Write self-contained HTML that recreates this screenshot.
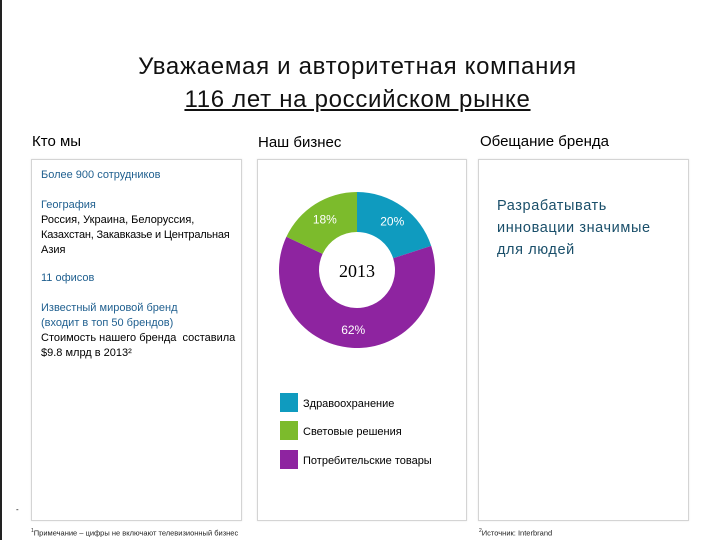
<!DOCTYPE html>
<html><head><meta charset="utf-8"><style>
body{margin:0;width:720px;height:540px;background:#fff;position:relative;overflow:hidden;font-family:"Liberation Sans","DejaVu Sans",sans-serif;}
.abs{position:absolute;white-space:nowrap;}
.box{position:absolute;border:1px solid #d4d4d4;box-shadow:0 0 2px #e8e8e8;}
.blue{color:#1f5f8f;}
.s{font-size:11px;line-height:15px;}
</style></head><body>
<div class="abs" style="left:0;top:0;width:2px;height:540px;background:#222;"></div>
<div class="abs" style="left:0;width:715px;top:53px;text-align:center;font-size:24px;letter-spacing:0.7px;color:#111;">Уважаемая и авторитетная компания</div>
<div class="abs" style="left:0;width:715px;top:86px;text-align:center;font-size:24px;letter-spacing:0.7px;color:#111;text-decoration:underline;">116 лет на российском рынке</div>

<div class="abs" style="left:32px;top:133px;font-size:15px;">Кто мы</div>
<div class="abs" style="left:258px;top:134px;font-size:15px;">Наш бизнес</div>
<div class="abs" style="left:480px;top:133px;font-size:15px;">Обещание бренда</div>

<div class="box" style="left:31px;top:159px;width:209px;height:360px;"></div>
<div class="box" style="left:257px;top:159px;width:208px;height:360px;"></div>
<div class="box" style="left:478px;top:159px;width:209px;height:360px;"></div>

<div class="abs s blue" style="left:41px;top:168px;">Более 900 сотрудников</div>
<div class="abs s" style="left:41px;top:198px;"><span class="blue">География</span><br>Россия, Украина, Белоруссия,<br><span style="letter-spacing:-0.2px">Казахстан, Закавказье и Центральная</span><br>Азия</div>
<div class="abs s blue" style="left:41px;top:271px;">11 офисов</div>
<div class="abs s" style="left:41px;top:301px;"><span class="blue">Известный мировой бренд<br>(входит в топ 50 брендов)</span><br>Стоимость нашего бренда&nbsp; составила<br>$9.8 млрд в 2013²</div>

<div class="abs blue" style="left:497px;top:195px;font-size:14.5px;line-height:22px;letter-spacing:0.6px;color:#1a4f6a;">Разрабатывать<br>инновации значимые<br>для людей</div>

<svg class="abs" style="left:0;top:0" width="720" height="540" id="chart"></svg>

<div class="abs" style="left:16px;top:505px;font-size:8px;">-</div>
<div class="abs" style="left:31px;top:528px;font-size:7.5px;color:#222;"><sup style="font-size:5px">1</sup>Примечание – цифры не включают телевизионный бизнес</div>
<div class="abs" style="left:479px;top:528px;font-size:7.5px;color:#222;"><sup style="font-size:5px">2</sup>Источник: Interbrand</div>

<script>
const categories=["Здравоохранение","Световые решения","Потребительские товары"];
const values=[20,18,62];
const labels=["20%","18%","62%"];
const colors=["#0f9bbf","#7cbb2c","#8e24a0"];
// drawing order clockwise from top: health, consumer, lighting
const order=[0,2,1];
const svg=document.getElementById('chart');
const NS="http://www.w3.org/2000/svg";
const cx=357,cy=270,R=78,r=38;
const total=values.reduce((a,b)=>a+b,0);
function pt(rad,a){return [cx+rad*Math.sin(a),cy-rad*Math.cos(a)];}
let a0=0;
order.forEach(i=>{
  const a1=a0+values[i]/total*2*Math.PI;
  const large=(a1-a0)>Math.PI?1:0;
  const [x0,y0]=pt(R,a0),[x1,y1]=pt(R,a1),[x2,y2]=pt(r,a1),[x3,y3]=pt(r,a0);
  const p=document.createElementNS(NS,'path');
  p.setAttribute('d',`M${x0},${y0}A${R},${R} 0 ${large} 1 ${x1},${y1}L${x2},${y2}A${r},${r} 0 ${large} 0 ${x3},${y3}Z`);
  p.setAttribute('fill',colors[i]);
  
  
  svg.appendChild(p);
  const am=(a0+a1)/2;
  const [lx,ly]=pt((R+r)/2+2,am);
  const t=document.createElementNS(NS,'text');
  t.setAttribute('x',lx);t.setAttribute('y',ly+4);
  t.setAttribute('text-anchor','middle');t.setAttribute('fill','#fff');
  t.setAttribute('font-size','12');t.setAttribute('font-family','Liberation Sans, sans-serif');
  t.textContent=labels[i];
  
  
  svg.appendChild(t);
  a0=a1;
});
const c=document.createElementNS(NS,'text');
c.setAttribute('x',cx);c.setAttribute('y',cy+7);c.setAttribute('text-anchor','middle');
c.setAttribute('font-size','18');c.setAttribute('font-family','Liberation Serif, serif');
c.textContent="2013";


svg.appendChild(c);
const legY=[393,421,450];
categories.forEach((name,i)=>{
  const rc=document.createElementNS(NS,'rect');
  rc.setAttribute('x',280);rc.setAttribute('y',legY[i]);rc.setAttribute('width',18);rc.setAttribute('height',19);
  rc.setAttribute('fill',colors[i]);
  
  
  svg.appendChild(rc);
  const t=document.createElementNS(NS,'text');
  t.setAttribute('x',303);t.setAttribute('y',legY[i]+14);
  t.setAttribute('font-size','11');t.setAttribute('font-family','Liberation Sans, sans-serif');
  t.textContent=name;
  
  
  svg.appendChild(t);
});
</script>
</body></html>
